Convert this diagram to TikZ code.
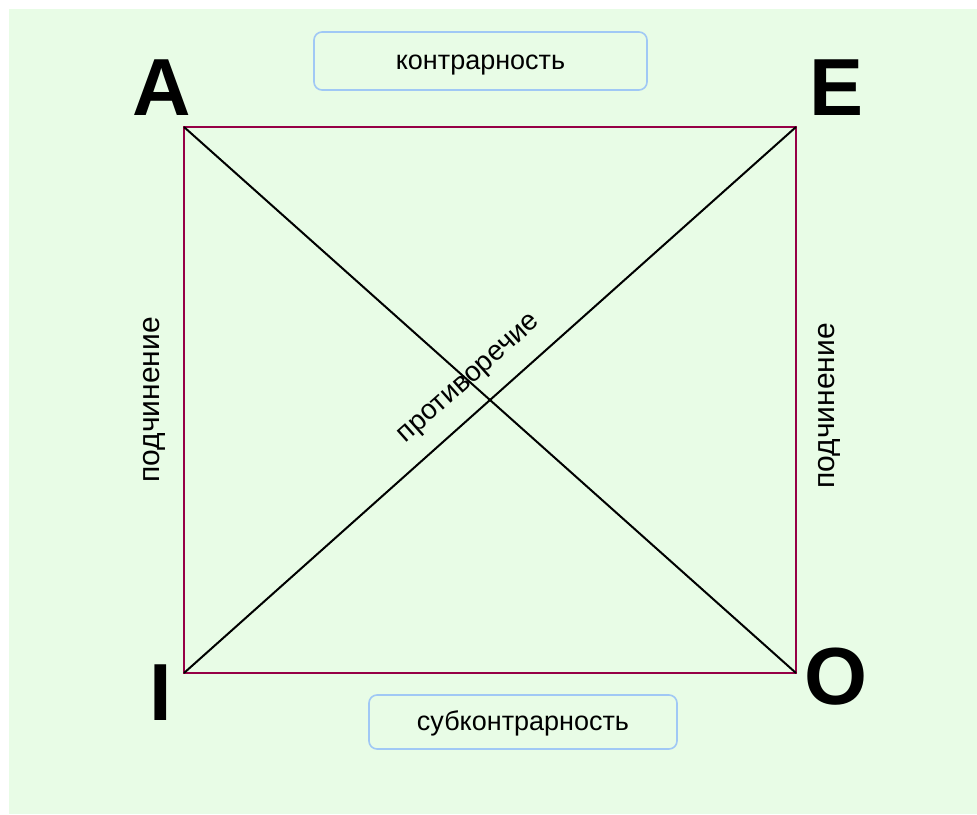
\documentclass[tikz,border=0pt]{standalone}
\usepackage{fontspec}
\setmainfont{Liberation Sans}
\definecolor{bg}{RGB}{232,252,230}
\definecolor{sqc}{RGB}{150,0,70}
\definecolor{boxc}{RGB}{160,200,245}
\begin{document}
\begin{tikzpicture}[x=1pt,y=-1pt,
  corner/.style={font=\fontsize{81}{81}\selectfont\bfseries, inner sep=0pt},
  lbl/.style={font=\fontsize{28}{28}\selectfont, inner sep=0pt},
  sidelbl/.style={font=\fontsize{30}{30}\selectfont, inner sep=0pt, rotate=90},
  lblbox/.style={draw=boxc, line width=1.6pt, rounded corners=8pt, fill=bg},
  boxtext/.style={font=\fontsize{27}{27}\selectfont, inner sep=0pt, anchor=base},
  side/.style={draw=sqc, line width=2.4pt},
  diag/.style={draw=black, line width=2pt}]
\useasboundingbox (0,0) rectangle (977,814);
\fill[white] (0,0) rectangle (977,814);
\fill[bg] (9,9) rectangle (977,814);
\coordinate (cA) at (184,127);
\coordinate (cE) at (796,127);
\coordinate (cI) at (184,673);
\coordinate (cO) at (796,673);
\draw[side] (cA) -- (cE) -- (cO) -- (cI) -- cycle;
\draw[diag] (cA) -- (cO);
\draw[diag] (cI) -- (cE);
\node[corner] (A) at (162,88) {A};
\node[corner] (E) at (837,88) {E};
\node[corner] (I) at (161,693) {I};
\node[corner] (O) at (836,677) {O};
\draw[lblbox] (314,32) rectangle (647,90);
\node[boxtext] (contr) at (480.5,69) {контрарность};
\draw[lblbox] (369,695) rectangle (677,749);
\node[boxtext] (sub) at (523,730) {субконтрарность};
\node[sidelbl] (podL) at (154,400) {подчинение};
\node[sidelbl] (podR) at (829,406) {подчинение};
\node[lbl, rotate=41.7] (prot) at (470,380) {противоречие};
\end{tikzpicture}
\end{document}
